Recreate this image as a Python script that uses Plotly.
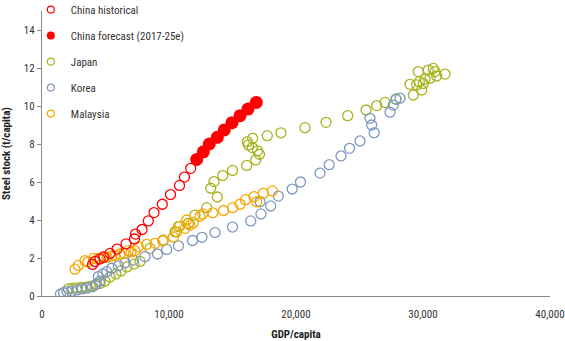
import plotly.graph_objects as go

# ---- data (GDP per capita, steel stock t/capita) ----
china_hist_x = [3976, 4173, 4567, 4882, 5354, 5906, 6614, 7283, 7362, 7874, 8370, 8819,
                9472, 10118, 10827, 11220, 11709]
china_hist_y = [1.66, 1.82, 1.95, 2.05, 2.24, 2.47, 2.74, 3.00, 3.26, 3.50, 3.95, 4.39,
                4.83, 5.34, 5.82, 6.26, 6.72]

china_fc_x = [12181, 12701, 13173, 13803, 14354, 14961, 15591, 16220, 16874]
china_fc_y = [7.19, 7.59, 8.00, 8.35, 8.74, 9.12, 9.49, 9.84, 10.19]

japan_x = [2073, 2400, 2750, 3100, 3450, 3800, 4173, 4567, 4961, 5354, 5827,
           6220, 6693, 7244, 7717, 8504, 9551, 10472, 10732, 11520, 12047, 12969, 13803,
           13283, 13543, 14228, 15000, 16118, 16827, 17126, 16969, 16559, 16244, 16165,
           16590, 17740, 18819, 20709, 22362, 24071, 25512, 26354, 27008, 27874, 28976,
           29236, 29504, 29630, 29709, 29898, 30024, 30158, 30417, 30551, 30811, 30945,
           31079, 31732]
japan_y = [0.38, 0.41, 0.43, 0.45, 0.47, 0.51, 0.58, 0.66, 0.79, 1.00, 1.16,
           1.32, 1.53, 1.68, 1.82, 2.51, 2.95, 3.38, 3.65, 3.83, 4.26, 4.65, 5.21,
           5.67, 6.02, 6.34, 6.61, 6.87, 7.16, 7.46, 7.64, 7.81, 7.95, 8.12,
           8.30, 8.44, 8.59, 8.86, 9.14, 9.49, 9.79, 10.02, 10.19, 10.37, 11.14,
           10.58, 11.11, 11.81, 11.28, 10.84, 11.19, 11.41, 11.89, 11.46, 11.98, 11.81,
           11.58, 11.68]

korea_x = [1457, 1693, 1969, 2362, 2756, 3150, 3543, 3976, 4291, 4567, 4433, 4780, 5094,
           5488, 6008, 6535, 7189, 8110, 9094, 9819, 10748, 11850, 12598, 13622, 15000,
           16433, 17244, 17165, 18008, 18606, 19701, 20354, 21890, 22614, 23543, 24213,
           25039, 26157, 25961, 25827, 27402, 27661, 27874, 28189]
korea_y = [0.11, 0.17, 0.23, 0.26, 0.32, 0.37, 0.41, 0.49, 0.63, 0.79, 1.02, 1.16, 1.28,
           1.46, 1.59, 1.75, 1.89, 2.07, 2.21, 2.45, 2.64, 2.92, 3.09, 3.34, 3.63,
           3.95, 4.32, 4.96, 4.74, 5.26, 5.63, 6.00, 6.47, 6.91, 7.37, 7.77,
           8.16, 8.59, 9.00, 9.35, 9.67, 10.05, 10.35, 10.41]

malaysia_x = [2598, 2858, 3386, 3622, 4055, 4449, 4827, 5118, 5488, 5748, 6142, 6457, 6795,
              7008, 7323, 7583, 8244, 8898, 9504, 10339, 10606, 10866, 11260, 11394, 11654,
              11913, 12441, 12654, 13441, 14291, 15016, 15591, 16024, 16693, 16906, 17425,
              18134]
malaysia_y = [1.41, 1.61, 1.86, 1.79, 1.98, 1.98, 2.07, 2.03, 2.11, 2.13, 2.21, 2.26, 2.39,
              2.32, 2.38, 2.59, 2.72, 2.77, 2.89, 3.11, 3.38, 3.68, 3.56, 4.00, 3.74,
              3.86, 4.21, 4.32, 4.38, 4.50, 4.65, 4.83, 5.07, 5.23, 4.96, 5.41,
              5.53]

names = ["China historical", "China forecast (2017-25e)", "Japan", "Korea", "Malaysia"]
colors = ["#FF0000", "#FF0000", "#A6B41E", "#7F98C0", "#F5A800"]

FONT = "Liberation Sans Narrow, Arial Narrow, Roboto Condensed, Roboto, sans-serif"

fig = go.Figure()

series = [
    (japan_x, japan_y, 2, False),
    (korea_x, korea_y, 3, False),
    (malaysia_x, malaysia_y, 4, False),
    (china_hist_x, china_hist_y, 0, False),
    (china_fc_x, china_fc_y, 1, True),
]
for xs, ys, idx, filled in series:
    if filled:
        marker = dict(symbol="circle", size=13, color=colors[idx], line=dict(width=0))
    else:
        marker = dict(symbol="circle-open", size=10, color=colors[idx], line=dict(width=1.3))
    fig.add_trace(go.Scatter(x=xs, y=ys, mode="markers", marker=marker,
                             name=names[idx], showlegend=False, hoverinfo="x+y"))

# legend-only entries (small markers as in the reference)
for i, n in enumerate(names):
    if i == 1:
        m = dict(symbol="circle", size=8, color=colors[i])
    else:
        m = dict(symbol="circle-open", size=7, color=colors[i], line=dict(width=1.2))
    fig.add_trace(go.Scatter(x=[None], y=[None], mode="markers", marker=m, name=n,
                             legendgroup=f"g{i}", showlegend=True))

fig.update_layout(
    width=565, height=341,
    margin=dict(l=42, r=15, t=11, b=45, autoexpand=False),
    paper_bgcolor="white", plot_bgcolor="white",
    font=dict(family=FONT, size=11, color="#333333"),
    legend=dict(x=-0.022, y=1.056, xref="paper", yref="paper", xanchor="left", yanchor="top",
                bgcolor="rgba(0,0,0,0)", tracegroupgap=7,
                font=dict(family=FONT, size=11, color="#333333"),
                itemwidth=30),
    xaxis=dict(range=[0, 40000], tickvals=[0, 10000, 20000, 30000, 40000],
               tickformat=",", showgrid=False, zeroline=False, showline=True,
               linecolor="#888888", linewidth=1.3, ticks="", ticklabelstandoff=8,
               automargin=False,
               title=dict(text="<b>GDP/capita</b>", standoff=14,
                          font=dict(family=FONT, size=11, color="#222222"))),
    yaxis=dict(range=[0, 15], tickvals=[0, 2, 4, 6, 8, 10, 12, 14], showgrid=False,
               zeroline=False, showline=True, linecolor="#888888", linewidth=1.3,
               ticks="outside", ticklen=4, tickcolor="#888888", automargin=False,
               title=dict(text="<b>Steel stock (t/capita)</b>", standoff=10,
                          font=dict(family=FONT, size=11, color="#222222"))),
)

fig.write_html("out.html")
